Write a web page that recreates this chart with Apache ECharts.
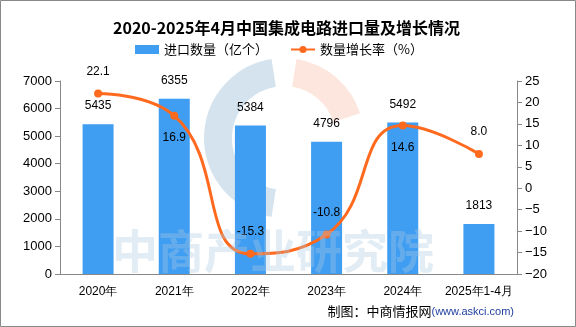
<!DOCTYPE html>
<html><head><meta charset="utf-8">
<script src="https://cdn.jsdelivr.net/npm/echarts@6/dist/echarts.min.js"></script>
<style>html,body{margin:0;padding:0;background:#fff}#c{width:576px;height:327px}</style>
</head><body><div id="c"></div>
<script>
const categories = ['2020年','2021年','2022年','2023年','2024年','2025年1-4月'];
const importVolume = [5435, 6355, 5384, 4796, 5492, 1813];
const growthRate = [22.1, 16.9, -15.3, -10.8, 14.6, 8.0];
const leftTicks = {min: 0, max: 7000, interval: 1000};
const rightTicks = {min: -20, max: 25, interval: 5};

const labelPos = ['top','bottom','top','top','bottom','top'];
const chart = echarts.init(document.getElementById('c'));
const axisFont = {color:'#000', fontSize:13, fontFamily:'Liberation Sans'};
chart.setOption({
  animation:false,
  title:{text:'2020-2025年4月中国集成电路进口量及增长情况', left:108, top:15,
    textStyle:{fontSize:16, fontWeight:'bold', color:'#000', fontFamily:'Noto Sans CJK SC'}},
  legend:{left:130, top:38, itemWidth:24, itemHeight:9, itemGap:22,
    textStyle:{fontSize:13, color:'#000', fontFamily:'Noto Sans CJK SC'},
    data:[{name:'进口数量（亿个）', icon:'rect'},{name:'数量增长率（%）'}]},
  grid:{left:60, right:59, top:81, bottom:53},
  xAxis:{type:'category', data:categories,
    axisLine:{lineStyle:{color:'#888'}}, axisTick:{lineStyle:{color:'#888'}},
    axisLabel:{interval:0, color:'#000', fontSize:12, fontFamily:'Liberation Sans', margin:12}},
  yAxis:[
    {type:'value', min:leftTicks.min, max:leftTicks.max, interval:leftTicks.interval,
     axisLine:{show:true, lineStyle:{color:'#888'}}, axisTick:{show:true, lineStyle:{color:'#888'}},
     splitLine:{show:false}, axisLabel:Object.assign({formatter:v=>String(v)}, axisFont)},
    {type:'value', min:rightTicks.min, max:rightTicks.max, interval:rightTicks.interval,
     axisLine:{show:true, lineStyle:{color:'#888'}}, axisTick:{show:true, lineStyle:{color:'#888'}},
     splitLine:{show:false}, axisLabel:Object.assign({formatter:v=>String(v).replace('-','−')}, axisFont)}
  ],
  graphic:[
    {type:'rect', shape:{x:0.5,y:0.5,width:575,height:326}, style:{fill:'none', stroke:'#888', lineWidth:1}, z:100},
    {type:'arc', shape:{cx:284, cy:138, r:66, startAngle:Math.PI*0.55, endAngle:Math.PI*1.45}, style:{fill:'none', stroke:'rgba(170,200,222,0.5)', lineWidth:28}, z:-1},
    {type:'arc', shape:{cx:284, cy:138, r:66, startAngle:Math.PI*1.55, endAngle:Math.PI*1.9}, style:{fill:'none', stroke:'rgba(250,200,180,0.45)', lineWidth:28}, z:-1},
    {type:'text', left:112, top:228, z:50, style:{text:'中商产业研究院', fontSize:46, fontWeight:'bold', fontFamily:'Noto Sans CJK SC', fill:'rgba(170,200,225,0.35)'}},
    {type:'text', right:62, top:305, style:{text:'{a|制图：中商情报网}{b|(www.askci.com)}',
      rich:{a:{fontSize:13, fill:'#000', fontFamily:'Noto Sans CJK SC'}, b:{fontSize:11, fill:'#1f3fa0', fontFamily:'Liberation Sans'}}}}
  ],
  series:[
    {name:'进口数量（亿个）', type:'bar', data:importVolume, barWidth:31, yAxisIndex:0,
     itemStyle:{color:'#3f9df2'},
     label:{show:true, position:'top', distance:12, color:'#000', fontSize:12, fontFamily:'Liberation Sans'}},
    {name:'数量增长率（%）', type:'line', yAxisIndex:1, smooth:0.5,
     data:growthRate.map((v,i)=>({value:v, label:{position:labelPos[i]}})),
     symbol:'circle', symbolSize:8,
     lineStyle:{color:'#ff6a1f', width:3}, itemStyle:{color:'#ff6a1f'},
     label:{show:true, distance:12, color:'#000', fontSize:12, fontFamily:'Liberation Sans', formatter:p=>p.value.toFixed(1)}}
  ]
});
</script></body></html>
